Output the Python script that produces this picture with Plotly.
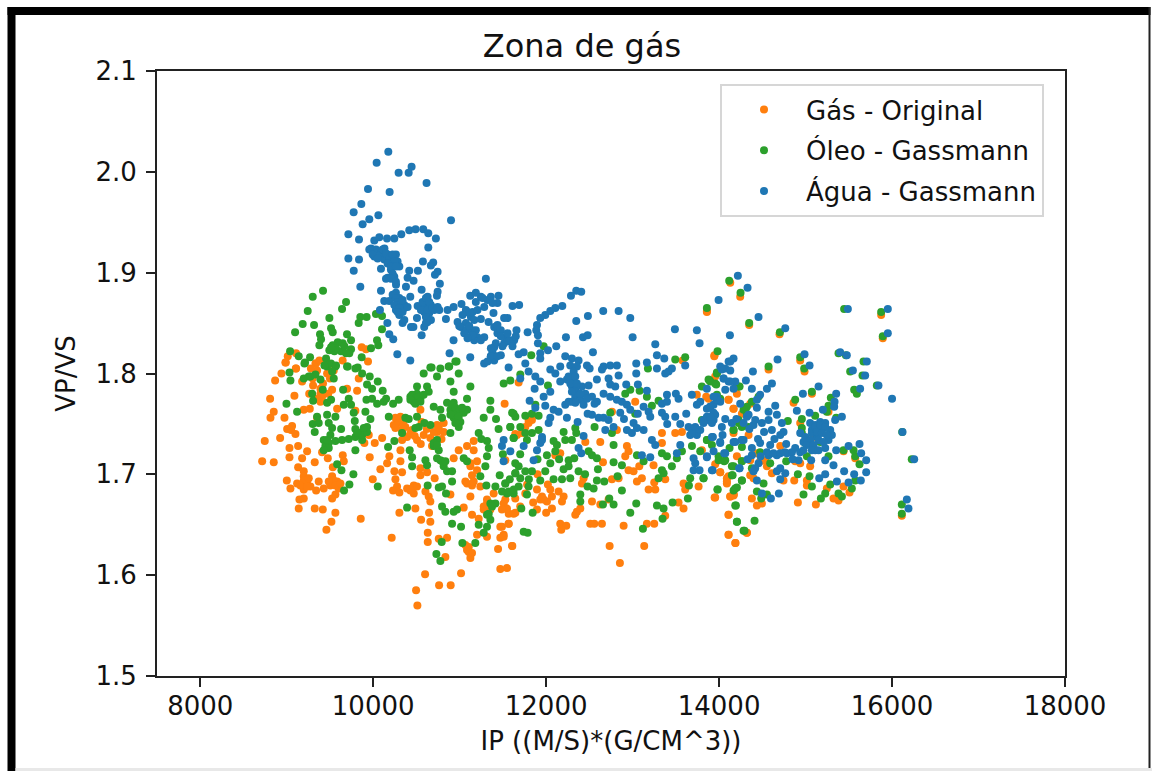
import plotly.graph_objects as go

TITLE = "Zona de gás"
X_LABEL = "IP ((M/S)*(G/CM^3))"
Y_LABEL = "VP/VS"
SERIES_NAMES = ["Gás - Original", "Óleo - Gassmann", "Água - Gassmann"]
SERIES_COLORS = ["#ff7f0e", "#2ca02c", "#1f77b4"]

gas_original = [
(8985,1.811),(8939,1.800),(9105,1.805),(8866,1.793),(9178,1.792),(9332,1.810),(9351,1.803),(9467,1.800),(9544,1.803),(9305,1.788),
(9525,1.784),(9409,1.777),(9390,1.772),(9698,1.785),(9814,1.783),(9833,1.795),(9089,1.778),(8808,1.775),(9197,1.764),(9267,1.765),
(9583,1.765),(8850,1.762),(8812,1.756),(8974,1.756),(9794,1.763),(9351,1.756),(9062,1.748),(9005,1.745),(9051,1.744),(9101,1.740),
(8746,1.733),(8924,1.736),(9032,1.726),(9132,1.728),(9236,1.723),(9032,1.717),(9178,1.716),(9324,1.712),(9409,1.722),(9475,1.716),
(8716,1.713),(8850,1.712),(9648,1.719),(9660,1.713),(9898,1.731),(10018,1.731),(10103,1.736),(9960,1.717),(9949,1.739),(9132,1.707),
(9197,1.703),(9533,1.707),(9001,1.694),(9120,1.691),(9043,1.686),(9197,1.698),(9236,1.693),(9197,1.685),(9370,1.693),(9274,1.688),
(9340,1.684),(9428,1.686),(9525,1.698),(9583,1.693),(9505,1.689),(9602,1.686),(9563,1.680),(9525,1.676),(9197,1.676),(9147,1.675),
(9139,1.666),(9324,1.666),(9417,1.665),(9563,1.662),(9517,1.653),(9459,1.645),(9856,1.656),(10214,1.637),(9995,1.695),(10083,1.705),
(10161,1.711),(10187,1.718),(10315,1.724),(10315,1.713),(10245,1.703),(10334,1.702),(10257,1.695),(10276,1.688),(10230,1.684),(10303,1.682),
(10303,1.662),(10392,1.686),(10469,1.689),(10430,1.684),(10469,1.681),(10488,1.666),(10546,1.699),(10546,1.706),(10711,1.696),(10623,1.702),
(10604,1.683),(10642,1.678),(10661,1.673),(10893,1.680),(11047,1.667),(10646,1.662),(10554,1.655),(10661,1.653),(10631,1.642),(10631,1.633),
(10758,1.636),(10854,1.637),(11143,1.660),(10835,1.618),(10600,1.601),(10762,1.590),(10896,1.590),(10496,1.585),(10511,1.570),(11016,1.602),
(10276,1.751),(10315,1.757),(10238,1.749),(10353,1.754),(10334,1.744),(10450,1.744),(10392,1.737),(10507,1.734),(10584,1.739),(10661,1.736),
(10738,1.749),(10815,1.742),(10738,1.742),(10546,1.764),(10334,1.734),(10931,1.716),(10989,1.724),(11085,1.728),(11162,1.724),(11162,1.733),
(11201,1.713),(11124,1.708),(11143,1.699),(11066,1.693),(11143,1.689),(11239,1.688),(11124,1.678),(11393,1.681),(11316,1.675),(11278,1.665),
(11355,1.665),(11529,1.666),(11567,1.661),(11644,1.662),(11220,1.656),(11470,1.648),(11567,1.651),(11509,1.640),(11470,1.637),(11201,1.640),
(11316,1.638),(11444,1.626),(11609,1.629),(11066,1.630),(11105,1.623),(11124,1.617),(11470,1.606),(11547,1.607),(11528,1.714),(11663,1.739),
(11509,1.671),(14129,1.890),(14244,1.876),(13859,1.862),(13947,1.818),(13578,1.813),(11682,1.791),(11520,1.770),(11797,1.754),(11759,1.747),
(11643,1.740),(11720,1.741),(12453,1.732),(12626,1.732),(12934,1.728),(12953,1.723),(12915,1.718),(12657,1.712),(12163,1.721),(12106,1.719),
(12433,1.696),(12414,1.691),(12761,1.695),(12838,1.696),(12953,1.704),(13011,1.703),(13107,1.696),(13050,1.693),(13250,1.692),(13185,1.685),
(13262,1.685),(13077,1.708),(13242,1.709),(13339,1.731),(13339,1.741),(13493,1.741),(13570,1.742),(13377,1.695),(12048,1.685),(12067,1.678),
(11932,1.675),(12009,1.673),(12067,1.666),(11894,1.685),(12144,1.683),(12202,1.678),(12183,1.673),(11528,1.675),(11643,1.676),(11759,1.681),
(11547,1.666),(11624,1.661),(11489,1.665),(11894,1.665),(11566,1.651),(11489,1.648),(11509,1.638),(11605,1.629),(12356,1.663),(12395,1.666),
(12337,1.660),(12530,1.673),(12626,1.670),(12722,1.675),(12163,1.651),(12233,1.649),(12175,1.645),(12510,1.651),(12557,1.651),(12645,1.651),
(12896,1.649),(12734,1.629),(13134,1.629),(12853,1.612),(13165,1.651),(13250,1.651),(13377,1.659),(13531,1.672),(13589,1.666),(13608,1.685),
(13763,1.688),(13589,1.691),(14013,1.702),(13955,1.677),(14129,1.678),(14167,1.679),(14109,1.660),(14109,1.640),(14190,1.632),(14090,1.693),
(14109,1.698),(14321,1.642),(14167,1.765),(14109,1.774),(13878,1.775),(13743,1.779),(13030,1.772),(12761,1.762),(12818,1.744),(13859,1.861),
(14348,1.848),(14699,1.839),(14938,1.813),(14572,1.804),(14988,1.802),(14861,1.771),(15073,1.780),(15265,1.762),(15874,1.858),(15893,1.835),
(13944,1.817),(13955,1.797),(13851,1.777),(14110,1.774),(14206,1.780),(14167,1.765),(14264,1.760),(14360,1.770),(14938,1.751),(14167,1.741),
(14341,1.739),(14206,1.718),(14360,1.714),(14475,1.713),(14553,1.708),(14610,1.701),(14360,1.699),(14398,1.696),(14013,1.702),(14090,1.696),
(14090,1.691),(13955,1.710),(14129,1.678),(14171,1.680),(13948,1.677),(14379,1.676),(14495,1.671),(14437,1.669),(14110,1.660),(14110,1.640),
(14187,1.632),(14321,1.642),(14911,1.672),(15119,1.670),(14869,1.694),(15015,1.689),(14745,1.694),(14938,1.711),(15053,1.708),(14880,1.713),
(15323,1.676),(15381,1.674),(15439,1.688),(15508,1.682),(15246,1.686),(15015,1.694),(15439,1.723),(15574,1.716),(15053,1.732),(15092,1.737),
(14707,1.728),(14533,1.714),(14437,1.721),(13801,1.724),(16113,1.659),(9867,1.826),(9917,1.824),(9940,1.812),(9108,1.820),(9012,1.817),
(8989,1.811),(9108,1.805),(9339,1.810),(9378,1.813),(9647,1.813),
(9197,1.694),(9255,1.696),(9159,1.689),(9236,1.688),(9544,1.694),(9486,1.693),(9563,1.689),(9621,1.691),(10257,1.756),(10295,1.751),
(10372,1.747),(10257,1.746),(10430,1.741),(10700,1.742),(10758,1.746),(10815,1.751),(11085,1.691),(11162,1.693),(10450,1.686),(10507,1.688),
(11085,1.625),(11105,1.628),(11143,1.622),(11316,1.671),(11278,1.668),(11124,1.711),(11201,1.704),(11797,1.751),(11836,1.754),(11971,1.675),
(11952,1.678),(9390,1.780),(9390,1.785),
(9300,1.795),(9420,1.790),(9480,1.780),(9350,1.775),(9260,1.780),(9450,1.810),(9500,1.795),(9280,1.805),(10350,1.748),(10480,1.738),
(10550,1.730),(10620,1.745),(10680,1.728),(10790,1.735),(10560,1.752),(11900,1.700),(11780,1.690),(12020,1.690),(11700,1.668),(11850,1.672),
(12000,1.662),
]

oleo_gassmann = [
(14117,1.892),(14248,1.880),(13859,1.865),(14348,1.850),(14703,1.841),(15446,1.864),(15874,1.861),(15893,1.837),(14938,1.816),(14572,1.807),
(14984,1.805),(15381,1.820),(15466,1.818),(15670,1.812),(15658,1.798),(15516,1.802),(15824,1.788),(15562,1.784),(15593,1.780),(15073,1.782),
(14880,1.774),(15292,1.776),(15265,1.768),(13982,1.822),(13975,1.800),(13898,1.792),(13801,1.787),(13955,1.790),(14237,1.787),(13975,1.779),
(14013,1.775),(14321,1.767),(14379,1.772),(14456,1.777),(14795,1.753),(14957,1.755),(15111,1.758),(15246,1.762),(15354,1.756),(16117,1.742),
(16228,1.715),(16113,1.670),(16113,1.661),(13878,1.794),(13801,1.754),(14167,1.744),(13859,1.734),(13994,1.714),(14059,1.713),(14121,1.726),
(14264,1.727),(14148,1.708),(14264,1.713),(14156,1.699),(14264,1.694),(13820,1.696),(13982,1.685),(14167,1.684),(14206,1.687),(14187,1.669),
(14206,1.653),(14410,1.654),(14283,1.644),(14514,1.691),(14437,1.683),(14487,1.676),(14553,1.680),(14379,1.706),(14475,1.722),(14591,1.711),
(14776,1.713),(14911,1.700),(15046,1.698),(15015,1.718),(15073,1.688),(14976,1.680),(15227,1.681),(15177,1.676),(15285,1.690),(15381,1.681),
(15420,1.678),(15535,1.686),(15574,1.694),(15439,1.724),(15574,1.718),(15624,1.710),(15555,1.724),(14957,1.746),(14957,1.741),(14996,1.731),
(15169,1.732),(15265,1.718),(15111,1.744),(14283,1.764),(14225,1.751),(14341,1.747),(13608,1.816),(13493,1.814),(13177,1.805),(11971,1.827),
(11828,1.818),(13890,1.793),(13974,1.801),(13967,1.789),(14225,1.787),(12915,1.780),(12973,1.784),(13081,1.783),(13165,1.777),(13300,1.773),
(13223,1.768),(13030,1.760),(12021,1.788),(11875,1.769),(11586,1.793),(11509,1.790),(11701,1.799),(11624,1.760),(11759,1.758),(11836,1.760),
(11913,1.758),(11586,1.747),(11701,1.747),(11778,1.734),(11836,1.741),(11624,1.736),(11759,1.741),(11913,1.744),(12086,1.733),(12125,1.729),
(12221,1.734),(12298,1.734),(12202,1.742),(12337,1.746),(12348,1.741),(12560,1.747),(12741,1.761),(12761,1.741),(12780,1.729),(12491,1.723),
(12587,1.716),(12530,1.719),(12325,1.716),(12260,1.714),(12202,1.705),(12260,1.708),(12375,1.703),(12279,1.696),(12183,1.695),(12086,1.695),
(11990,1.703),(12048,1.711),(12009,1.719),(12106,1.723),(11932,1.694),(11836,1.703),(11759,1.703),(11643,1.711),(11643,1.701),(11701,1.696),
(11797,1.688),(11778,1.680),(11528,1.691),(11547,1.681),(11624,1.681),(11682,1.688),(11713,1.666),(11844,1.662),(11740,1.643),(11786,1.642),
(12599,1.705),(12780,1.712),(12876,1.709),(12826,1.698),(12672,1.693),(12587,1.694),(12549,1.686),(12479,1.688),(12876,1.684),(12730,1.676),
(12780,1.670),(12657,1.670),(12395,1.680),(12395,1.673),(13042,1.671),(12973,1.662),(13281,1.669),(13358,1.666),(13346,1.656),(13119,1.646),
(13462,1.672),(13639,1.676),(13651,1.689),(13666,1.696),(13820,1.696),(13982,1.685),(14194,1.669),(14206,1.653),(14294,1.644),(14186,1.686),
(14263,1.694),(14148,1.699),(14167,1.708),(14263,1.713),(13050,1.719),(13127,1.713),(13339,1.721),(13397,1.718),(13454,1.708),(13339,1.704),
(13300,1.696),(13358,1.701),(13512,1.716),(13570,1.723),(13686,1.728),(13782,1.723),(13859,1.734),(13917,1.729),(13994,1.718),(14071,1.714),
(14167,1.744),(14263,1.747),(14321,1.760),(14225,1.754),(9032,1.801),(9043,1.793),(9197,1.795),(9255,1.797),(9332,1.799),(9390,1.794),
(9544,1.795),(9563,1.807),(9467,1.807),(9205,1.810),(9698,1.807),(9794,1.805),(9872,1.800),(9960,1.797),(10053,1.792),(9929,1.789),
(9987,1.785),(10110,1.783),(9652,1.784),(9417,1.784),(9294,1.780),(9305,1.773),(8997,1.770),(9120,1.762),(9467,1.771),(9513,1.774),
(9660,1.769),(9717,1.775),(9744,1.769),(9922,1.774),(9987,1.775),(10045,1.770),(10122,1.772),(10149,1.775),(10230,1.770),(10295,1.774),
(9775,1.761),(9910,1.762),(9968,1.755),(9787,1.753),(9467,1.759),(9563,1.757),(9351,1.757),(9301,1.750),(9370,1.751),(9324,1.742),
(9486,1.751),(9525,1.746),(9505,1.739),(9629,1.745),(9428,1.734),(9447,1.728),(9486,1.731),(9563,1.733),(9640,1.734),(9717,1.735),
(9794,1.737),(9794,1.745),(9872,1.742),(9929,1.747),(9872,1.734),(9794,1.724),(9583,1.710),(9633,1.704),(9771,1.700),(9725,1.690),
(9663,1.684),(10053,1.688),(10180,1.757),(10172,1.727),(10245,1.733),(10334,1.741),(10372,1.756),(10411,1.755),(10507,1.757),(10592,1.751),
(10527,1.747),(10488,1.746),(10662,1.749),(10796,1.756),(10430,1.777),(10507,1.780),(10469,1.772),(10546,1.775),(10507,1.787),(10623,1.787),
(10642,1.782),(10584,1.800),(10661,1.806),(10738,1.797),(10777,1.805),(10873,1.807),(10950,1.812),(10893,1.792),(10931,1.782),(10989,1.800),
(11085,1.775),(11124,1.787),(10854,1.771),(10931,1.771),(10700,1.767),(10777,1.764),(10893,1.764),(10970,1.761),(11047,1.761),(11085,1.764),
(10931,1.756),(11008,1.752),(10989,1.747),(10893,1.741),(10738,1.734),(10700,1.728),(10758,1.724),(10738,1.716),(10796,1.713),(10815,1.708),
(10854,1.703),(10912,1.703),(10912,1.693),(10758,1.687),(10796,1.688),(10630,1.689),(10842,1.681),(10796,1.668),(10834,1.663),(10931,1.663),
(10970,1.665),(10912,1.651),(11016,1.648),(10392,1.667),(10792,1.633),(11031,1.632),(11181,1.632),(10731,1.621),(10777,1.614),(10422,1.724),
(10450,1.717),(10450,1.708),(10604,1.714),(10623,1.709),(11047,1.716),(11085,1.713),(11239,1.698),(11309,1.689),(11413,1.688),(11490,1.683),
(11567,1.683),(11625,1.685),(11528,1.691),(11463,1.699),(11316,1.718),(11297,1.708),(11336,1.726),(11316,1.733),(11220,1.741),(11278,1.756),
(11355,1.764),(11355,1.773),(11606,1.761),(11644,1.757),(11586,1.747),(11625,1.736),(11682,1.708),(11644,1.701),(11355,1.671),(11413,1.671),
(11336,1.661),(11355,1.655),(11316,1.648),(11278,1.642),(11220,1.650),(9420,1.882),(9301,1.876),(9686,1.871),(9640,1.864),(9243,1.862),
(9851,1.856),(9924,1.856),(10032,1.859),(10102,1.857),(9493,1.855),(9832,1.850),(9185,1.849),(9316,1.848),(9513,1.845),(9532,1.841),
(10102,1.844),(9097,1.841),(9385,1.839),(9397,1.834),(9378,1.828),(9697,1.839),(9744,1.833),(9590,1.831),(9647,1.830),(9532,1.828),
(9493,1.823),(9744,1.824),(9724,1.820),(9628,1.822),(9551,1.822),(10044,1.833),(10059,1.828),(9975,1.825),(9039,1.822),(9139,1.817),
(9270,1.816),(9212,1.811),(9455,1.815),(9512,1.810),(9436,1.808),(9570,1.808),(9867,1.816),(9705,1.807),(9821,1.806),(10675,1.806),
(10879,1.807),(10964,1.812),
(10450,1.779),(10488,1.775),(10527,1.777),(10430,1.774),(10488,1.770),(10546,1.772),(10584,1.779),(10912,1.769),(10950,1.766),(10989,1.762),
(10931,1.759),(10989,1.757),(11028,1.766),(10893,1.759),(10950,1.751),(10700,1.731),(10738,1.729),(10777,1.714),(10835,1.713),(9467,1.734),
(9486,1.726),(9428,1.724),(9872,1.739),(9814,1.741),(9929,1.742),(9891,1.746),(11316,1.660),(11374,1.668),(9274,1.797),(9525,1.802),
(9570,1.825),(9667,1.827),(9513,1.826),(9686,1.820),
(11250,1.735),(11450,1.745),(11700,1.720),(11900,1.715),(11800,1.695),(11580,1.695),(11500,1.720),(11420,1.755),(12150,1.715),(12450,1.700),
]

agua_gassmann = [
(10175,2.020),(10040,2.009),(10444,2.005),(10294,1.999),(10410,1.999),(10617,1.989),(9940,1.983),(10190,1.980),(9863,1.968),(9774,1.960),
(10060,1.957),(9955,1.953),(9878,1.948),(10900,1.952),(9713,1.938),(9836,1.933),(10013,1.932),(10071,1.935),(10160,1.934),(10244,1.934),
(10325,1.938),(10417,1.942),(10490,1.943),(10579,1.943),(10637,1.939),(10725,1.934),(10637,1.925),(9975,1.924),(10032,1.923),(10130,1.924),
(10013,1.916),(10090,1.919),(10167,1.918),(10263,1.918),(9713,1.914),(9836,1.913),(10128,1.913),(10282,1.911),(10575,1.911),(10694,1.910),
(10667,1.907),(9775,1.902),(10090,1.904),(10205,1.903),(10302,1.906),(10417,1.902),(10517,1.902),(10745,1.901),(10714,1.898),(10398,1.895),
(10467,1.892),(10167,1.895),(10244,1.896),(10264,1.888),(10379,1.886),(10771,1.889),(11303,1.894),(9851,1.886),(10090,1.882),(10560,1.883),
(10745,1.881),(10737,1.877),(10429,1.876),(10263,1.880),(10302,1.875),(10128,1.872),(10186,1.872),(10629,1.876),(10283,1.866),(10321,1.870),
(10360,1.868),(10263,1.863),(10302,1.858),(10360,1.865),(10552,1.866),(10590,1.870),(10629,1.866),(10514,1.867),(10667,1.868),(10590,1.861),
(10648,1.860),(10706,1.863),(10764,1.863),(10860,1.863),(10930,1.866),(11021,1.869),(11122,1.877),(11187,1.880),(11245,1.876),(11322,1.873),
(11449,1.877),(11437,1.870),(11611,1.867),(11688,1.868),(11091,1.861),(11130,1.856),(11168,1.853),(11072,1.850),(10976,1.851),(11014,1.846),
(10841,1.854),(11245,1.854),(11334,1.851),(11391,1.860),(11553,1.855),(11514,1.855),(11083,1.843),(11149,1.843),(11206,1.836),(11130,1.836),
(11168,1.833),(11284,1.836),(11399,1.846),(11437,1.840),(11514,1.830),(11591,1.833),(11630,1.833),(11534,1.836),(11476,1.843),(11657,1.843),
(10629,1.851),(10590,1.846),(10506,1.855),(10437,1.846),(10465,1.846),(10340,1.850),(10360,1.853),(10164,1.850),(10078,1.863),(10560,1.838),
(10186,1.839),(10232,1.834),(10929,1.833),(10279,1.819),(10429,1.813),(10883,1.820),(11122,1.816),(11399,1.826),(11379,1.821),(11360,1.817),
(11399,1.813),(11476,1.818),(11283,1.810),(12348,1.882),(12406,1.881),(12287,1.877),(12187,1.867),(12106,1.865),(12048,1.862),(11990,1.858),
(11932,1.855),(11894,1.848),(11886,1.843),(11905,1.838),(11786,1.841),(12660,1.862),(12838,1.862),(12973,1.855),(12483,1.857),(12348,1.852),
(12229,1.836),(12426,1.836),(12480,1.838),(13000,1.836),(13489,1.844),(13743,1.843),(13774,1.830),(14125,1.838),(13994,1.873),(14217,1.897),
(14329,1.885),(11905,1.830),(12021,1.823),(12117,1.827),(12541,1.821),(11740,1.821),(11682,1.819),(11932,1.820),(11932,1.815),(13262,1.829),
(13281,1.818),(13366,1.815),(13608,1.808),(13042,1.810),(13165,1.811),(13281,1.805),(13042,1.800),(13454,1.805),(13416,1.802),(13377,1.800),
(12221,1.817),(12298,1.815),(12375,1.813),(12472,1.808),(12503,1.805),(12279,1.808),(12356,1.807),(12318,1.802),(12163,1.807),(12048,1.804),
(12106,1.800),(11759,1.810),(11566,1.806),(11797,1.802),(11875,1.797),(11932,1.792),(11701,1.795),(12664,1.807),(12741,1.808),(12818,1.808),
(12645,1.804),(12838,1.798),(12587,1.794),(12722,1.795),(12741,1.789),(12799,1.787),(12926,1.789),(13061,1.789),(12163,1.792),(12240,1.794),
(12298,1.794),(12298,1.787),(12337,1.784),(12414,1.787),(12491,1.788),(11867,1.785),(11971,1.777),(12048,1.782),(11809,1.773),(12337,1.777),
(12395,1.774),(12453,1.780),(12530,1.777),(12587,1.772),(12664,1.780),(12741,1.777),(12818,1.774),(12221,1.769),(12298,1.772),(12876,1.772),
(12934,1.769),(12973,1.764),(13127,1.767),(13165,1.783),(13185,1.762),(13204,1.757),(13397,1.779),(13339,1.770),(13397,1.772),(13531,1.775),
(13685,1.779),(13782,1.772),(13743,1.769),(13897,1.767),(13859,1.765),(13974,1.777),(14013,1.772),(13936,1.769),(13339,1.761),(13377,1.757),
(13493,1.757),(13551,1.750),(13647,1.747),(13705,1.744),(13666,1.739),(13743,1.739),(13820,1.754),(13897,1.756),(13936,1.754),(13917,1.737),
(14013,1.732),(13551,1.729),(13512,1.721),(13859,1.718),(13705,1.716),(13724,1.711),(13705,1.704),(13774,1.704),(13917,1.704),(14059,1.721),
(14167,1.732),(14233,1.706),(14263,1.734),(12530,1.759),(12607,1.756),(12664,1.756),(12722,1.754),(12780,1.747),(12684,1.744),(12857,1.761),
(12364,1.752),(12240,1.756),(12048,1.756),(12086,1.764),(11990,1.768),(11875,1.766),(12144,1.762),(12029,1.751),(12934,1.744),(13011,1.751),
(13050,1.746),(12992,1.741),(13127,1.744),(13223,1.734),(13262,1.729),(13107,1.719),(13204,1.717),(12433,1.738),(12375,1.726),(12406,1.721),
(11952,1.737),(11932,1.731),(11894,1.724),(11952,1.734),(11740,1.728),(11586,1.723),(11855,1.714),(11508,1.713),(11508,1.734),(11489,1.728),
(14456,1.856),(14765,1.845),(15489,1.864),(15951,1.864),(15951,1.840),(14988,1.819),(14676,1.814),(15046,1.808),(15477,1.818),(15400,1.821),
(15708,1.812),(15689,1.798),(15547,1.803),(15843,1.788),(15631,1.785),(16000,1.775),(15150,1.787),(14969,1.780),(15354,1.780),(15335,1.772),
(15331,1.767),(16121,1.742),(16256,1.715),(16171,1.675),(16190,1.666),(14167,1.815),(14110,1.812),(14013,1.807),(14071,1.805),(14129,1.803),
(14391,1.802),(14052,1.795),(14110,1.792),(14187,1.792),(14310,1.793),(14379,1.785),(14611,1.790),(14553,1.785),(14475,1.779),(14437,1.774),
(14071,1.784),(14167,1.785),(14649,1.768),(14899,1.763),(15046,1.761),(15200,1.764),(15420,1.757),(15342,1.754),(13859,1.785),(13975,1.774),
(13898,1.767),(14244,1.770),(14437,1.766),(14572,1.762),(14668,1.759),(14726,1.751),(14745,1.742),(14610,1.744),(14707,1.739),(14495,1.751),
(14398,1.749),(14321,1.757),(14283,1.751),(14148,1.751),(14071,1.755),(14032,1.747),(13955,1.759),(13859,1.754),(13917,1.751),(13820,1.751),
(14040,1.739),(13928,1.737),(14013,1.731),(13936,1.723),(14071,1.721),(13859,1.717),(13925,1.704),(14187,1.732),(14283,1.734),(14379,1.726),
(14379,1.719),(14475,1.731),(14591,1.729),(14776,1.730),(14572,1.719),(14668,1.719),(14784,1.721),(14880,1.726),(14938,1.722),(14919,1.714),
(15065,1.714),(15092,1.726),(15227,1.726),(15227,1.714),(15354,1.724),(15497,1.728),(15624,1.730),(15643,1.721),(15701,1.714),(15323,1.709),
(15446,1.703),(15562,1.700),(15701,1.702),(15639,1.694),(15227,1.700),(15158,1.696),(15362,1.693),(15497,1.692),(14938,1.741),(14996,1.737),
(15053,1.751),(15111,1.749),(15169,1.752),(15227,1.751),(15073,1.744),(15150,1.744),(15208,1.746),(15285,1.744),(15304,1.739),(15265,1.734),
(15131,1.737),(15073,1.741),(15111,1.724),(14976,1.732),(14707,1.706),(14765,1.701),(14707,1.695),(14456,1.711),(14417,1.706),(14398,1.703),
(14237,1.706),(14437,1.694),(14495,1.681),(14599,1.676),(14691,1.681),(14668,1.703),(14264,1.734),(14341,1.759),
(9955,1.923),(9994,1.918),(10052,1.914),(10109,1.923),(10148,1.919),(10186,1.914),(10225,1.918),(10244,1.911),(10167,1.909),(10206,1.906),
(10263,1.906),(10225,1.899),(10148,1.894),(10206,1.894),(10263,1.891),(10225,1.878),(10263,1.875),(10283,1.871),(10340,1.873),(10244,1.868),
(10302,1.865),(10340,1.861),(10283,1.861),(10398,1.866),(10571,1.871),(10610,1.875),(10648,1.871),(10552,1.863),(10629,1.863),(10687,1.865),
(10745,1.866),(10610,1.856),(10668,1.853),(10610,1.850),(11072,1.863),(11110,1.860),(11149,1.861),(11033,1.858),(11187,1.871),(11264,1.875),
(11361,1.876),(11380,1.870),(11284,1.866),(11206,1.863),(11110,1.847),(11187,1.843),(11149,1.838),(11053,1.840),(10995,1.847),(11245,1.833),
(11091,1.835),(11437,1.848),(11476,1.837),(11553,1.840),(11572,1.832),(11495,1.827),(11418,1.830),(11361,1.825),(11361,1.817),(11322,1.812),
(11437,1.817),(11649,1.837),(11611,1.827),(12260,1.797),(12337,1.797),(12279,1.790),(12356,1.790),(12298,1.782),(12395,1.780),(12337,1.771),
(12260,1.772),(12433,1.769),(12472,1.775),(13743,1.741),(13782,1.744),(13686,1.741),(13724,1.747),(13859,1.757),(13936,1.761),(13974,1.774),
(13936,1.777),(14052,1.795),(14129,1.792),(14032,1.804),(14129,1.812),(15111,1.747),(15169,1.749),(15227,1.747),(15131,1.742),(15188,1.741),
(15246,1.739),(15150,1.734),(15208,1.732),(15053,1.734),(15015,1.729),(15092,1.729),(13898,1.757),(14553,1.722),(14630,1.721),(14707,1.721),
(14842,1.722),(14976,1.724),(15073,1.724),(15150,1.724),(14418,1.754),(14572,1.754),
(12480,1.760),(12560,1.770),(12900,1.755),(13060,1.760),(13400,1.750),(13500,1.780),(13620,1.760),(14200,1.755),(14350,1.745),(14520,1.742),
(14640,1.735),(14450,1.735),(14760,1.722),(14850,1.715),(14330,1.715),(14480,1.718),
]

series = [gas_original, oleo_gassmann, agua_gassmann]

fig = go.Figure()
for name, color, pts in zip(SERIES_NAMES, SERIES_COLORS, series):
    fig.add_trace(go.Scatter(
        x=[p[0] for p in pts], y=[p[1] for p in pts], mode="markers", name=name,
        legendgroup=name,
        marker=dict(color=color, size=8, line=dict(width=0)),
    ))

W, H = 1152, 771
L, R, T, B = 157, 1065, 71, 676


def px(x):
    return (x - L) / (R - L)


def py(y):
    return (B - y) / (B - T)


def box(x0, y0, x1, y1, color):
    return dict(type="rect", xref="paper", yref="paper", x0=px(x0), x1=px(x1),
                y0=py(y0), y1=py(y1), fillcolor=color, line=dict(width=0), layer="above")


FONT = "DejaVu Sans"
TEXT = "#111"
axis = dict(showgrid=False, zeroline=False, showline=True, mirror=True, linecolor="#222",
            linewidth=2, ticks="outside", ticklen=9, tickwidth=2, tickcolor="#222",
            tickfont=dict(family=FONT, size=26, color=TEXT))
fig.update_layout(
    width=W, height=H, margin=dict(l=L, r=W - R, t=T, b=H - B, autoexpand=False),
    paper_bgcolor="white", plot_bgcolor="white",
    title=dict(text=TITLE, x=582 / W, xanchor="center", y=1 - 46 / H, yanchor="middle",
               font=dict(family=FONT, size=32, color=TEXT)),
    xaxis=dict(axis, range=[7500, 18000], tick0=8000, dtick=2000, tickformat="d", ticklabelstandoff=-3,
               title=dict(text=X_LABEL, standoff=12, font=dict(family=FONT, size=26, color=TEXT))),
    yaxis=dict(axis, range=[1.5, 2.1], tick0=1.5, dtick=0.1, tickformat=".1f", ticklabelstandoff=4,
               title=dict(text=Y_LABEL, standoff=12, font=dict(family=FONT, size=26, color=TEXT))),
    legend=dict(x=px(720), y=py(84), xanchor="left", yanchor="top", traceorder="grouped",
                tracegroupgap=4, itemwidth=74, itemsizing="trace",
                bgcolor="rgba(255,255,255,0.8)", bordercolor="#d6d6d6", borderwidth=2,
                font=dict(family=FONT, size=26, color=TEXT)),
    shapes=[
        box(7.5, 7, 1150.5, 15, "black"),
        box(7.5, 7, 15.5, 771, "black"),
        box(1148.5, 7, 1150.5, 768, "#222"),
        box(15.5, 768, 1152, 771, "#e8e8e8"),
    ],
)

fig.write_html("out.html", config={"displayModeBar": False},
               post_script="document.body.style.margin='0';document.body.style.overflow='hidden';")
